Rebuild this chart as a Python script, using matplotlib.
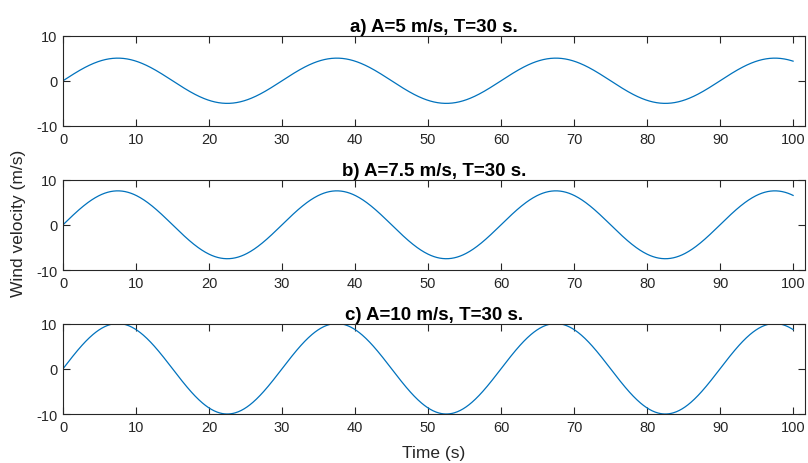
import numpy as np
import matplotlib
matplotlib.use("Agg")
import matplotlib.pyplot as plt

plt.rcParams['font.family'] = ['Liberation Sans', 'DejaVu Sans']
plt.rcParams['axes.unicode_minus'] = False

# wind profiles: amplitude (m/s) and period (s) for each panel
labels = ["a)", "b)", "c)"]
amplitudes = [5, 7.5, 10]
amp_text = ["5", "7.5", "10"]
period = 30
t_end = 100

xticks = [0, 10, 20, 30, 40, 50, 60, 70, 80, 90, 100]
yticks = [-10, 0, 10]

t = np.linspace(0, t_end, 1001)

fig = plt.figure(figsize=(8.08, 4.64), dpi=100)
edge = '#262626'
line_color = '#0072BD'

# axes rectangles in figure fractions
bottoms = [0.7263, 0.4159, 0.1056]
left, width, height = 0.078, 0.918, 0.195

for i, (lab, A, at) in enumerate(zip(labels, amplitudes, amp_text)):
    ax = fig.add_axes([left, bottoms[i], width, height])
    v = A * np.sin(2 * np.pi * t / period)
    ax.plot(t, v, color=line_color, linewidth=0.9)
    ax.set_xlim(0, 101.6)
    ax.set_ylim(-10, 10)
    ax.set_xticks(xticks)
    ax.set_yticks(yticks)
    ax.tick_params(direction='in', length=5, width=0.8, colors=edge,
                   labelcolor=edge, labelsize=10.5, top=True, right=True,
                   pad=4)
    for s in ax.spines.values():
        s.set_color(edge)
        s.set_linewidth(0.8)
    ax.set_title(f"{lab} A={at} m/s, T={period} s.", fontsize=13.5,
                 fontweight='bold', pad=3.5)
    if i == 2:
        ax.set_xlabel("Time (s)", fontsize=12.5, color=edge, labelpad=8)

fig.text(0.0235, 0.518, "Wind velocity (m/s)", rotation=90, fontsize=12.5,
         color=edge, ha='center', va='center')

fig.savefig("out.png", dpi=100)
